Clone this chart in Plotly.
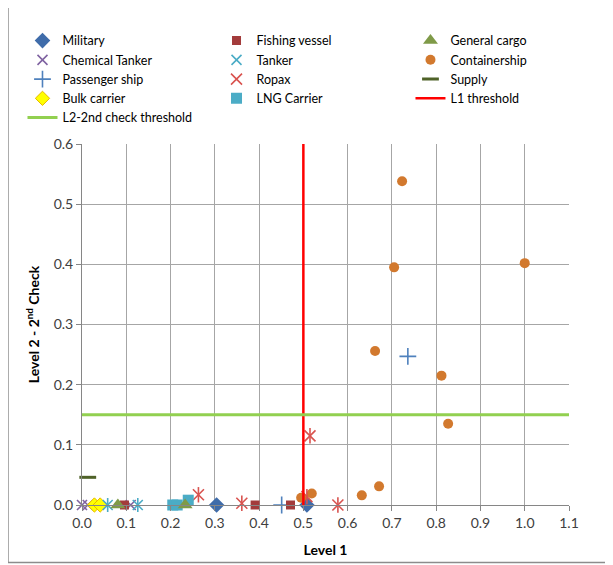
import plotly.graph_objects as go

# ---- data ----
military_x = [0.304, 0.508]
military_y = [0.0, 0.0]
fishing_x = [0.096, 0.391, 0.471]
fishing_y = [0.0, 0.0, 0.0]
cargo_x = [0.081, 0.233]
cargo_y = [0.0, 0.0]
chem_x = [0.0, 0.013, 0.110]
chem_y = [0.0, 0.0, 0.0]
tanker_x = [0.058, 0.126]
tanker_y = [0.0, 0.0]
container_x = [0.495, 0.519, 0.632, 0.671, 0.662, 0.705, 0.723, 0.812, 0.827, 1.0]
container_y = [0.012, 0.019, 0.016, 0.031, 0.256, 0.395, 0.538, 0.215, 0.135, 0.402]
passenger_x = [0.451, 0.736]
passenger_y = [0.0, 0.247]
ropax_x = [0.263, 0.361, 0.508, 0.515, 0.578]
ropax_y = [0.017, 0.003, 0.014, 0.115, 0.0]
supply_x = [0.013]
supply_y = [0.046]
bulk_x = [0.028, 0.041]
bulk_y = [0.0, 0.0]
lng_x = [0.205, 0.215, 0.240]
lng_y = [0.0, 0.0, 0.008]
l1_x = [0.5, 0.5]
l1_y = [0.0, 0.6]
l2_x = [0.0, 1.1]
l2_y = [0.15, 0.15]

x_ticks = [0.0, 0.1, 0.2, 0.3, 0.4, 0.5, 0.6, 0.7, 0.8, 0.9, 1.0, 1.1]
y_ticks = [0.0, 0.1, 0.2, 0.3, 0.4, 0.5, 0.6]

FONT = "Lato"

fig = go.Figure()

def pts(name, x, y, symbol, color, size, lw=0, lcolor=None, legend=True, group=None, leg="legend"):
    fig.add_trace(go.Scatter(
        x=x, y=y, mode="markers", name=name, showlegend=legend, legend=leg,
        legendgroup=group or name, cliponaxis=False,
        marker=dict(symbol=symbol, color=color, size=size,
                    line=dict(width=lw, color=lcolor or color)),
        hoverinfo="x+y+name"))

# column 1
pts("Military", military_x, military_y, "diamond", "#3F6CAA", 12, leg="legend")
pts("Chemical Tanker", chem_x, chem_y, "x-thin-open", "#8064A2", 10, lw=1.6, leg="legend")
pts("Passenger ship", passenger_x, passenger_y, "cross-thin-open", "#4F81BD", 12, lw=1.6, leg="legend")
pts("Bulk carrier", bulk_x, bulk_y, "diamond", "#FFFF00", 11, lw=1, lcolor="#E6B800", leg="legend")
# column 2
pts("Fishing vessel", fishing_x, fishing_y, "square", "#A33B3B", 9, leg="legend2")
pts("Tanker", tanker_x, tanker_y, "x-thin-open", "#4BACC6", 10, lw=1.6, leg="legend2")
pts("Ropax", ropax_x, ropax_y, "x-thin-open", "#D9534F", 11, lw=1.6, leg="legend2")
pts("LNG Carrier", lng_x, lng_y, "square", "#4BACC6", 11, leg="legend2")
# column 3
pts("General cargo", cargo_x, cargo_y, "triangle-up", "#7F9A48", 13, leg="legend3")
pts("Containership", container_x, container_y, "circle", "#D2792E", 10, leg="legend3")
pts("Supply", supply_x, supply_y, "line-ew-open", "#4F6228", 12, lw=3, leg="legend3")

# vertical strokes completing the six-armed asterisks
pts("Tanker", tanker_x, tanker_y, "line-ns-open", "#4BACC6", 10, lw=1.6, legend=False, group="Tanker", leg="legend2")
pts("Ropax", ropax_x, ropax_y, "line-ns-open", "#D9534F", 11, lw=1.6, legend=False, group="Ropax", leg="legend2")

fig.add_trace(go.Scatter(x=l1_x, y=l1_y, mode="lines", name="L1 threshold", legend="legend3",
                         line=dict(color="#FF0000", width=2.5)))
fig.add_trace(go.Scatter(x=l2_x, y=l2_y, mode="lines", name="L2-2nd check threshold", legend="legend",
                         line=dict(color="#92D050", width=3)))

# the page body adds an 8px offset; margins compensate for it
LEG_Y = 1.327
leg_common = dict(orientation="v", y=LEG_Y, yanchor="top", xanchor="left",
                  tracegroupgap=0, font=dict(family=FONT, size=12.5, color="#000000"),
                  bgcolor="rgba(0,0,0,0)", itemsizing="trace")

fig.update_layout(
    width=613, height=565,
    margin=dict(l=74, r=52, t=136, b=68),
    paper_bgcolor="white", plot_bgcolor="white",
    font=dict(family=FONT, size=14, color="#404040"),
    legend=dict(x=-0.1222, **leg_common),
    legend2=dict(x=0.2762, **leg_common),
    legend3=dict(x=0.6745, **leg_common),
    showlegend=True,
)
fig.update_xaxes(range=[0, 1.1], tickvals=x_ticks, ticktext=[f"{v:.1f}" for v in x_ticks],
                 showgrid=True, gridcolor="#A6A6A6", gridwidth=1,
                 showline=True, linecolor="#868686", mirror=False,
                 ticks="outside", ticklen=5, tickcolor="#868686", zeroline=False,
                 title=dict(text="<b>Level 1</b>", font=dict(size=14, color="#000000"), standoff=15))
fig.update_yaxes(range=[0, 0.6], tickvals=y_ticks, ticktext=[f"{v:.1f}" for v in y_ticks],
                 showgrid=True, gridcolor="#A6A6A6", gridwidth=1,
                 showline=True, linecolor="#868686",
                 ticks="outside", ticklen=5, tickcolor="#868686", zeroline=False,
                 title=dict(text="<b>Level 2 - 2<sup>nd</sup> Check</b>", font=dict(size=14, color="#000000"), standoff=10))

# outer chart border (left and bottom edges visible in the frame)
fig.add_shape(type="line", xref="paper", yref="paper", x0=-0.152, x1=-0.152, y0=-0.159, y1=1.39,
              line=dict(color="#8C8C8C", width=1.5))
fig.add_shape(type="line", xref="paper", yref="paper", x0=-0.152, x1=1.2, y0=-0.159, y1=-0.159,
              line=dict(color="#8C8C8C", width=1.5))

fig.write_html("out.html")
